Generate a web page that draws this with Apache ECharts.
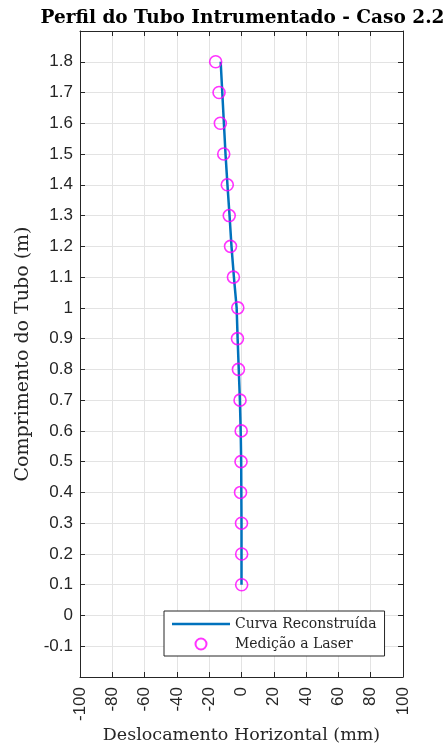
<!DOCTYPE html>
<html>
<head>
<meta charset="utf-8">
<script src="https://cdn.jsdelivr.net/npm/echarts@6/dist/echarts.min.js"></script>
<style>
  html, body { margin: 0; padding: 0; background: #fff; }
  #chart { width: 446px; height: 747px; }
</style>
</head>
<body>
<div id="chart"></div>
<script>
// Tube length positions (m)
const alturas = [0.1, 0.2, 0.3, 0.4, 0.5, 0.6, 0.7, 0.8, 0.9, 1.0, 1.1, 1.2, 1.3, 1.4, 1.5, 1.6, 1.7, 1.8];
// Reconstructed horizontal displacement curve (mm)
const curvaReconstruida = [0, 0, 0, -0.1, -0.2, -0.5, -1.0, -1.7, -2.4, -3.0, -4.7, -6.2, -7.4, -8.7, -9.9, -10.9, -11.9, -12.9];
// Laser measurements (mm)
const medicaoLaser = [0.1, 0.1, 0, -0.6, -0.3, -0.2, -0.9, -1.9, -2.5, -2.3, -5.0, -6.8, -7.6, -8.8, -11.0, -13.1, -13.9, -16.0];
// Axis ranges and steps
const xLimites = [-100, 100], xPasso = 20;
const yLimites = [-0.2, 1.9], yPasso = 0.1;

const serif = 'DejaVu Serif';
const sans = 'Liberation Sans';
const corTexto = '#262626';
const azul = '#0072BD';

const chart = echarts.init(document.getElementById('chart'), null, { renderer: 'canvas' });

const gridLine = { show: true, lineStyle: { color: '#e3e3e3', width: 1 } };
const boxLine = { show: true, onZero: false, lineStyle: { color: '#262626', width: 1 } };
const tickIn = { show: true, inside: true, length: 5, lineStyle: { color: '#262626', width: 1 } };

chart.setOption({
  backgroundColor: '#ffffff',
  animation: false,
  title: {
    text: 'Perfil do Tubo Intrumentado - Caso 2.2',
    left: 237.5, top: 4, textAlign: 'center',
    textStyle: { fontFamily: serif, fontWeight: 'bold', fontSize: 18.5, color: '#000' }
  },
  grid: { left: 80, right: 43, top: 31, bottom: 70, containLabel: false, outerBoundsMode: 'none' },
  legend: {
    orient: 'vertical',
    left: 164, top: 611,
    backgroundColor: '#fff',
    borderColor: '#262626', borderWidth: 1,
    padding: [6, 8, 5, 8],
    itemGap: 6,
    itemWidth: 58, itemHeight: 11,
    symbolKeepAspect: true,
    textStyle: { fontFamily: serif, fontSize: 14, color: corTexto },
    data: [
      { name: 'Curva Reconstruída', icon: 'path://M0,0H58V2.5H0Z', itemStyle: { color: azul } },
      { name: 'Medição a Laser' }
    ]
  },
  xAxis: [{
    type: 'value', min: xLimites[0], max: xLimites[1], interval: xPasso,
    position: 'bottom',
    name: 'Deslocamento Horizontal (mm)', nameLocation: 'middle', nameGap: 49,
    nameMoveOverlap: false,
    nameTextStyle: { fontFamily: serif, fontSize: 17.5, color: corTexto },
    axisLine: boxLine, axisTick: tickIn, splitLine: gridLine,
    axisLabel: { rotate: 90, margin: 10, fontFamily: sans, fontSize: 17, color: corTexto }
  }, {
    type: 'value', min: xLimites[0], max: xLimites[1], interval: xPasso,
    position: 'top',
    axisLine: boxLine, axisTick: tickIn, splitLine: { show: false },
    axisLabel: { show: false }
  }],
  yAxis: [{
    type: 'value', min: yLimites[0], max: yLimites[1], interval: yPasso,
    position: 'left',
    name: 'Comprimento do Tubo (m)', nameLocation: 'middle', nameGap: 47,
    nameMoveOverlap: false,
    nameTextStyle: { fontFamily: serif, fontSize: 19, color: corTexto },
    axisLine: boxLine, axisTick: tickIn, splitLine: gridLine,
    axisLabel: {
      showMinLabel: false, showMaxLabel: false,
      margin: 7, fontFamily: sans, fontSize: 17, color: corTexto,
      formatter: v => String(parseFloat(v.toFixed(1)))
    }
  }, {
    type: 'value', min: yLimites[0], max: yLimites[1], interval: yPasso,
    position: 'right',
    axisLine: boxLine, axisTick: tickIn, splitLine: { show: false },
    axisLabel: { show: false }
  }],
  series: [{
    name: 'Curva Reconstruída',
    type: 'line',
    xAxisIndex: 0, yAxisIndex: 0,
    data: alturas.map((h, i) => [curvaReconstruida[i], h]),
    symbol: 'none',
    lineStyle: { color: azul, width: 2.5 },
    itemStyle: { color: azul },
    z: 2
  }, {
    name: 'Medição a Laser',
    type: 'scatter',
    xAxisIndex: 0, yAxisIndex: 0,
    data: alturas.map((h, i) => [medicaoLaser[i], h]),
    symbol: 'circle',
    symbolSize: 12,
    itemStyle: { color: 'rgba(0,0,0,0)', borderColor: '#ff00ff', borderWidth: 1.6 },
    z: 3
  }]
});
</script>
</body>
</html>
